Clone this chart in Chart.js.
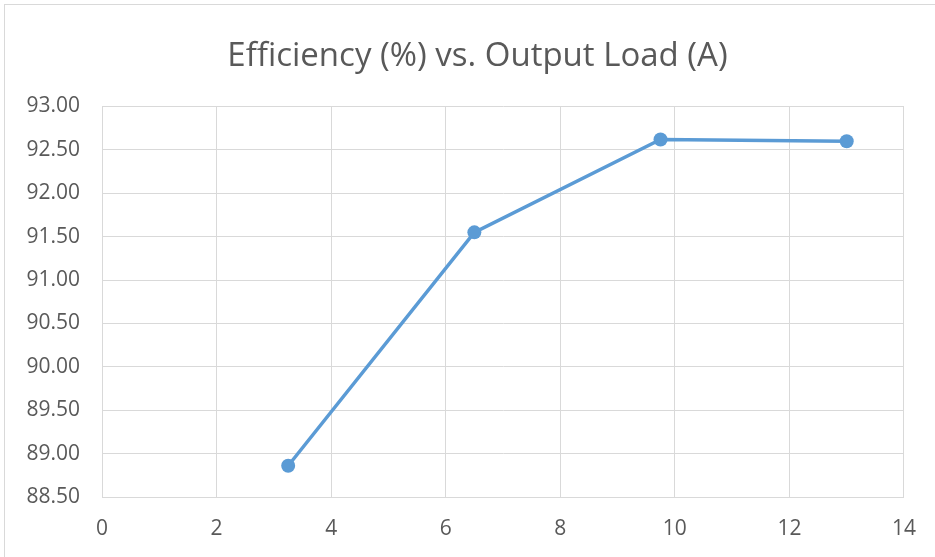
<!DOCTYPE html>
<html>
<head>
<meta charset="utf-8">
<script src="https://cdn.jsdelivr.net/npm/chart.js@4"></script>
<style>
  html, body { margin: 0; padding: 0; background: #fff; overflow: hidden; }
  #wrap { position: relative; width: 935px; height: 557px; }
  #frame { position: absolute; left: 4px; top: 4px; width: 960px; height: 600px; border: 1px solid #D9D9D9; box-sizing: border-box; }
  canvas { position: absolute; left: 0; top: 0; }
</style>
</head>
<body>
<div id="wrap">
  <div id="frame"></div>
  <canvas id="c" width="935" height="557"></canvas>
</div>
<script>
const titleText = "Efficiency (%) vs. Output Load (A)";
const loadA = [3.25, 6.5, 9.75, 13];
const efficiency = [88.86, 91.55, 92.62, 92.60];
const xTicks = [0, 2, 4, 6, 8, 10, 12, 14];
const yTicks = [88.5, 89, 89.5, 90, 90.5, 91, 91.5, 92, 92.5, 93];

const points = loadA.map((x, i) => ({ x: x, y: efficiency[i] }));
const gridColor = "#D9D9D9";
const textColor = "#595959";
const fontFamily = "'Open Sans', 'Liberation Sans', sans-serif";

const titlePlugin = {
  id: "offsetTitle",
  afterDraw(chart) {
    const ctx = chart.ctx;
    ctx.save();
    ctx.fillStyle = textColor;
    ctx.font = "normal 33px " + fontFamily;
    ctx.textAlign = "center";
    ctx.textBaseline = "middle";
    ctx.fillText(titleText, 477.5, 57);
    ctx.restore();
  }
};

new Chart(document.getElementById("c"), {
  type: "scatter",
  data: {
    datasets: [{
      data: points,
      showLine: true,
      borderColor: "#5B9BD5",
      backgroundColor: "#5B9BD5",
      borderWidth: 3.5,
      pointRadius: 7,
      pointHoverRadius: 7,
      pointBorderWidth: 0,
      tension: 0
    }]
  },
  plugins: [titlePlugin],
  options: {
    responsive: false,
    animation: false,
    devicePixelRatio: 1,
    layout: { padding: { left: 0, right: 31, top: 106.5, bottom: 0 } },
    plugins: {
      legend: { display: false },
      tooltip: { enabled: false },
      title: { display: false }
    },
    scales: {
      x: {
        type: "linear",
        min: 0, max: 14,
        afterBuildTicks: (s) => { s.ticks = xTicks.map(v => ({ value: v })); },
        afterFit: (s) => { s.height = 60; },
        grid: { color: gridColor, lineWidth: 1, drawTicks: false },
        border: { color: gridColor, width: 1 },
        ticks: {
          color: textColor,
          padding: 19,
          font: { family: fontFamily, size: 21 },
          callback: (v) => String(v)
        }
      },
      y: {
        type: "linear",
        min: 88.5, max: 93,
        afterBuildTicks: (s) => { s.ticks = yTicks.map(v => ({ value: v })); },
        afterFit: (s) => { s.width = 102; },
        grid: { color: gridColor, lineWidth: 1, drawTicks: false },
        border: { color: gridColor, width: 1 },
        ticks: {
          color: textColor,
          padding: 22,
          font: { family: fontFamily, size: 21 },
          callback: (v) => Number(v).toFixed(2)
        }
      }
    }
  }
});
</script>
</body>
</html>
